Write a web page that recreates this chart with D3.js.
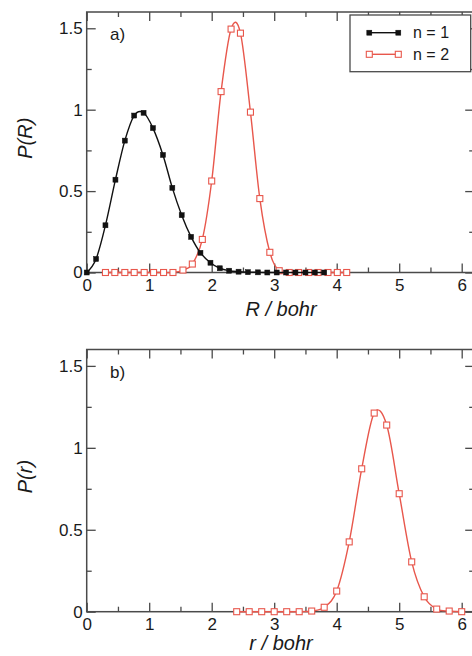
<!DOCTYPE html>
<html>
<head>
<meta charset="utf-8">
<script src="https://cdn.jsdelivr.net/npm/d3@7"></script>
<style>
  body { margin: 0; background: #fff; }
  svg { display: block; font-family: "Liberation Sans", Arial, sans-serif; }
  .tick text { fill: #1a1a1a; font-size: 17px; }
  .title { fill: #1a1a1a; font-size: 20px; font-style: italic; }
</style>
</head>
<body>
<svg id="chart" width="472" height="656"></svg>
<script>
// panel a, n = 1 (black, filled squares)
var R_n1 = [0, 0.15, 0.30, 0.46, 0.61, 0.76, 0.91, 1.06, 1.22, 1.37, 1.52, 1.67, 1.82,
            1.98, 2.13, 2.28, 2.43, 2.58, 2.74, 2.89, 3.04, 3.19, 3.34, 3.50, 3.65, 3.80];
var P_n1 = [0, 0.083, 0.29, 0.57, 0.81, 0.964, 0.981, 0.887, 0.722, 0.52, 0.352, 0.219, 0.121,
            0.06, 0.026, 0.011, 0.005, 0.002, 0.001, 0, 0, 0, 0, 0, 0, 0];
// panel a, n = 2 (red, open squares)
var R_n2 = [0.30, 0.45, 0.61, 0.76, 0.92, 1.07, 1.23, 1.38, 1.54, 1.69, 1.85, 2.00, 2.15,
            2.31, 2.46, 2.62, 2.77, 2.93, 3.08, 3.24, 3.39, 3.55, 3.70, 3.86, 4.01, 4.16];
var P_n2 = [0, 0, 0, 0, 0, 0, 0, 0, 0.015, 0.052, 0.203, 0.562, 1.111,
            1.495, 1.47, 0.985, 0.454, 0.124, 0.011, 0, 0, 0, 0, 0, 0, 0];
// panel b, n = 2
var r_b = [2.4, 2.6, 2.8, 3.0, 3.2, 3.4, 3.6, 3.8, 4.0, 4.2, 4.4, 4.6, 4.8, 5.0, 5.2, 5.4, 5.6, 5.8, 6.0];
var P_b = [0, 0, 0, 0, 0, 0, 0.004, 0.027, 0.126, 0.426, 0.872, 1.212, 1.139, 0.72, 0.304, 0.091, 0.016, 0.004, 0];

var xMajor = [0, 1, 2, 3, 4, 5, 6];
var xMinor = [0.5, 1.5, 2.5, 3.5, 4.5, 5.5];
var yMajor = [0, 0.5, 1, 1.5];
var yMinor = [0.25, 0.75, 1.25];
var legendLabels = ['n = 1', 'n = 2'];

var RED = '#e8574c';
var FRAME = '#4a4a4a';

var svg = d3.select('#chart');

var x = d3.scaleLinear().domain([0, 6.2]).range([86.7, 474.2]);

function pts(xs, ys) {
    return xs.map(function (v, i) { return [v, ys[i]]; });
}

function drawPanel(top, bottom, series, label, ytitle, xtitle, titleY) {
    var y = d3.scaleLinear().domain([0, 1.6]).range([bottom, top]);
    var g = svg.append('g');

    // minor ticks (no labels)
    g.append('g').attr('transform', 'translate(0,' + bottom + ')')
        .call(d3.axisBottom(x).tickValues(xMinor).tickSize(-5).tickFormat(''));
    g.append('g').attr('transform', 'translate(0,' + top + ')')
        .call(d3.axisTop(x).tickValues(xMinor).tickSize(-5).tickFormat(''));
    g.append('g').attr('transform', 'translate(86.7,0)')
        .call(d3.axisLeft(y).tickValues(yMinor).tickSize(-5).tickFormat(''));
    g.append('g').attr('transform', 'translate(474.2,0)')
        .call(d3.axisRight(y).tickValues(yMinor).tickSize(-5).tickFormat(''));

    // major ticks
    g.append('g').attr('transform', 'translate(0,' + bottom + ')')
        .call(d3.axisBottom(x).tickValues(xMajor).tickSize(-9).tickPadding(6).tickFormat(d3.format('')));
    g.append('g').attr('transform', 'translate(0,' + top + ')')
        .call(d3.axisTop(x).tickValues(xMajor).tickSize(-9).tickFormat(''));
    g.append('g').attr('transform', 'translate(86.7,0)')
        .call(d3.axisLeft(y).tickValues(yMajor).tickSize(-9).tickPadding(4).tickFormat(d3.format('')));
    g.append('g').attr('transform', 'translate(474.2,0)')
        .call(d3.axisRight(y).tickValues(yMajor).tickSize(-9).tickFormat(''));

    g.selectAll('.domain').remove();
    g.selectAll('.tick line').attr('stroke', FRAME).attr('stroke-width', 1.3);

    g.append('rect')
        .attr('x', 86.7).attr('y', top)
        .attr('width', 474.2 - 86.7).attr('height', bottom - top)
        .attr('fill', 'none').attr('stroke', FRAME).attr('stroke-width', 1.5);

    var line = d3.line()
        .x(function (d) { return x(d[0]); })
        .y(function (d) { return y(d[1]); })
        .curve(d3.curveCatmullRom.alpha(0));

    series.forEach(function (s) {
        var data = pts(s.xs, s.ys);
        g.append('path').datum(data)
            .attr('d', line)
            .attr('fill', 'none')
            .attr('stroke', s.color)
            .attr('stroke-width', 1.4);
        g.selectAll(null).data(data).enter().append('rect')
            .attr('x', function (d) { return x(d[0]) - s.size / 2; })
            .attr('y', function (d) { return y(d[1]) - s.size / 2; })
            .attr('width', s.size).attr('height', s.size)
            .attr('fill', s.filled ? s.color : '#fff')
            .attr('stroke', s.color)
            .attr('stroke-width', s.filled ? 0.5 : 1.1);
    });

    g.append('text').attr('x', 110).attr('y', top + 28)
        .attr('fill', '#1a1a1a').style('font-size', '17px').text(label);

    g.append('text').attr('class', 'title')
        .attr('transform', 'translate(32,' + ((top + bottom) / 2 - 4) + ') rotate(-90)')
        .attr('text-anchor', 'middle').text(ytitle);

    g.append('text').attr('class', 'title')
        .attr('x', 281).attr('y', titleY)
        .attr('text-anchor', 'middle').text(xtitle);
}

var s1 = { xs: R_n1, ys: P_n1, color: '#111', filled: true, size: 5 };
var s2 = { xs: R_n2, ys: P_n2, color: RED, filled: false, size: 6 };

drawPanel(12, 272.5, [s2, s1], 'a)', 'P(R)', 'R / bohr', 316);
drawPanel(349.5, 611.7, [{ xs: r_b, ys: P_b, color: RED, filled: false, size: 6 }], 'b)', 'P(r)', 'r / bohr', 650);

// legend
var lg = svg.append('g');
lg.append('rect').attr('x', 350).attr('y', 15).attr('width', 120.7).attr('height', 56.7)
    .attr('fill', '#fff').attr('stroke', FRAME).attr('stroke-width', 1.3);
[s1, s2].forEach(function (s, i) {
    var yy = 32.7 + i * 21.6;
    lg.append('line').attr('x1', 369.3).attr('x2', 398.3).attr('y1', yy).attr('y2', yy)
        .attr('stroke', s.color).attr('stroke-width', 1.4);
    [369.3, 398.3].forEach(function (xx) {
        lg.append('rect').attr('x', xx - s.size / 2).attr('y', yy - s.size / 2)
            .attr('width', s.size).attr('height', s.size)
            .attr('fill', s.filled ? s.color : '#fff')
            .attr('stroke', s.color).attr('stroke-width', s.filled ? 0.5 : 1.1);
    });
    lg.append('text').attr('x', 413).attr('y', yy + 5.5)
        .attr('fill', '#1a1a1a').style('font-size', '16px').text(legendLabels[i]);
});
</script>
</body>
</html>
